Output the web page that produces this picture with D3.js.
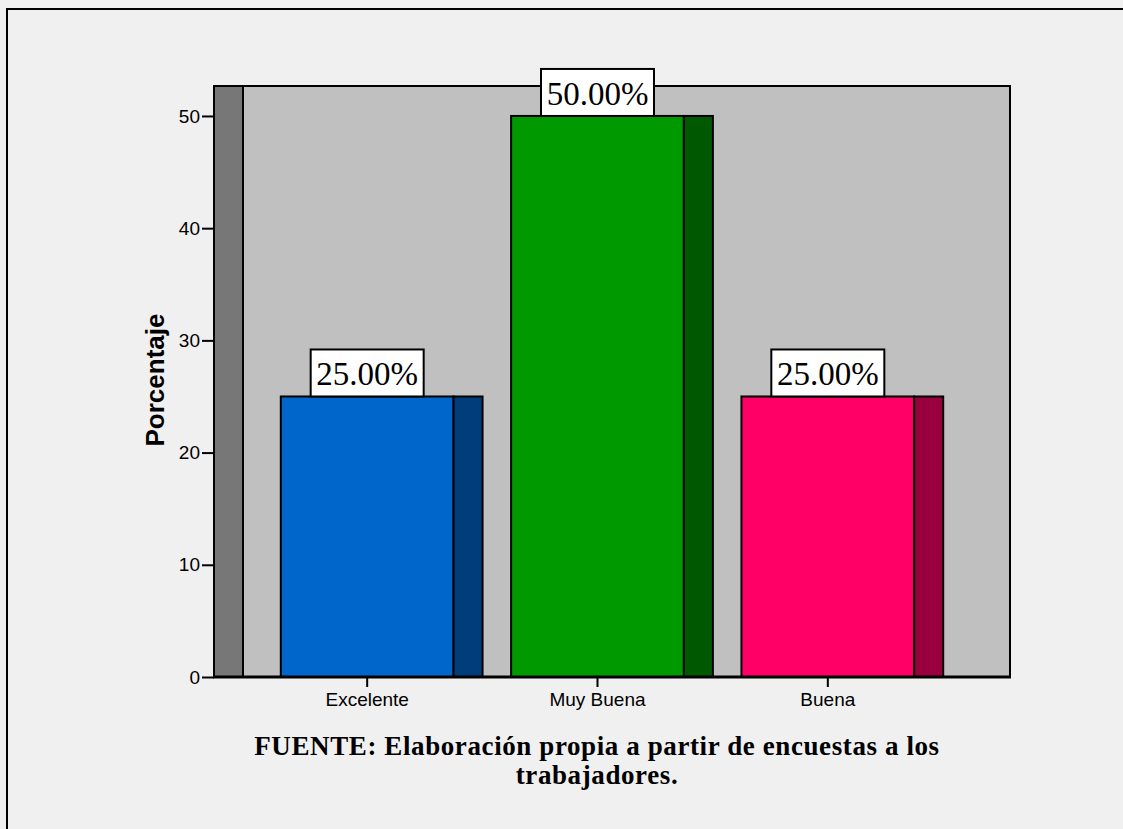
<!DOCTYPE html>
<html>
<head>
<meta charset="utf-8">
<script src="https://cdn.jsdelivr.net/npm/d3@7"></script>
<style>
  body { margin: 0; background: #f0f0f0; }
  svg { display: block; }
</style>
</head>
<body>
<svg id="chart" width="1123" height="829"></svg>
<script>
// data
var categories = ["Excelente", "Muy Buena", "Buena"];
var percents = [25, 50, 25];
var yTicks = [0, 10, 20, 30, 40, 50];
var frontColors = ["#0066cc", "#009900", "#ff0066"];
var sideColors = ["#003d7a", "#005900", "#99003d"];

(function(d3) {
  var svg = d3.select("#chart");

  var left = 214, right = 1010, top = 86, bottom = 677;
  var depth = 29; // pseudo 3d side width

  // page frame
  svg.append("rect")
    .attr("x", 7).attr("y", 9)
    .attr("width", 1130).attr("height", 840)
    .attr("fill", "#f0f0f0")
    .attr("stroke", "#000").attr("stroke-width", 2);

  var x = d3.scaleBand()
    .domain(categories)
    .range([left, right])
    .paddingInner(0.124)
    .paddingOuter(0.29);

  var y = d3.scaleLinear().domain([0, 52.67]).range([bottom, top]);

  // side wall + back wall
  svg.append("rect")
    .attr("x", left).attr("y", top)
    .attr("width", depth).attr("height", bottom - top)
    .attr("fill", "#777777").attr("stroke", "#000").attr("stroke-width", 2);
  svg.append("rect")
    .attr("x", left + depth).attr("y", top)
    .attr("width", right - left - depth).attr("height", bottom - top)
    .attr("fill", "#c0c0c0").attr("stroke", "#000").attr("stroke-width", 2);

  var data = categories.map(function(c, i) {
    return {cat: c, value: percents[i], front: frontColors[i], side: sideColors[i]};
  });

  var bar = svg.selectAll(".bar")
    .data(data)
    .enter().append("g")
    .attr("class", "bar");

  bar.append("rect")
    .attr("x", function(d) { return x(d.cat); })
    .attr("y", function(d) { return y(d.value); })
    .attr("width", x.bandwidth() - depth)
    .attr("height", function(d) { return y(0) - y(d.value); })
    .attr("fill", function(d) { return d.front; })
    .attr("stroke", "#000").attr("stroke-width", 2);

  bar.append("rect")
    .attr("x", function(d) { return x(d.cat) + x.bandwidth() - depth; })
    .attr("y", function(d) { return y(d.value); })
    .attr("width", depth)
    .attr("height", function(d) { return y(0) - y(d.value); })
    .attr("fill", function(d) { return d.side; })
    .attr("stroke", "#000").attr("stroke-width", 2);

  // value labels
  var fmt = d3.format(".2f");
  var boxW = 113, boxH = 47;
  function cx(d) { return x(d.cat) + (x.bandwidth() - depth) / 2; }

  bar.append("rect")
    .attr("x", function(d) { return cx(d) - boxW / 2; })
    .attr("y", function(d) { return y(d.value) - boxH; })
    .attr("width", boxW).attr("height", boxH)
    .attr("fill", "#fff").attr("stroke", "#000").attr("stroke-width", 2);

  bar.append("text")
    .attr("x", cx)
    .attr("y", function(d) { return y(d.value) - 11; })
    .attr("text-anchor", "middle")
    .style("font-family", "'Liberation Serif', 'Times New Roman', serif")
    .style("font-size", "33px")
    .attr("fill", "#000")
    .text(function(d) { return fmt(d.value) + "%"; });

  // axes
  var yAxis = svg.append("g")
    .attr("transform", "translate(" + left + ",0)")
    .call(d3.axisLeft(y).tickValues(yTicks).tickSize(12).tickPadding(2).tickFormat(d3.format("d")));
  yAxis.select(".domain").remove();
  yAxis.selectAll("line").attr("stroke", "#000").attr("stroke-width", 2);
  yAxis.selectAll("text")
    .style("font-family", "'Liberation Sans', Arial, sans-serif")
    .style("font-size", "19px").attr("fill", "#000");

  var xAxis = svg.append("g")
    .attr("transform", "translate(0," + bottom + ")")
    .call(d3.axisBottom(x).tickSize(10).tickPadding(6));
  xAxis.select(".domain").remove();
  xAxis.selectAll(".tick").attr("transform", function(d) {
    return "translate(" + (x(d) + (x.bandwidth() - depth) / 2) + ",0)";
  });
  xAxis.selectAll("line").attr("stroke", "#000").attr("stroke-width", 2);
  xAxis.selectAll("text")
    .style("font-family", "'Liberation Sans', Arial, sans-serif")
    .style("font-size", "19px").attr("fill", "#000");

  // baseline line
  svg.append("line")
    .attr("x1", left - 1).attr("x2", right + 1)
    .attr("y1", bottom).attr("y2", bottom)
    .attr("stroke", "#000").attr("stroke-width", 3);

  // y title
  svg.append("text")
    .attr("transform", "translate(164," + 380 + ") rotate(-90)")
    .attr("text-anchor", "middle")
    .style("font-family", "'Liberation Sans', Arial, sans-serif")
    .style("font-size", "26px").style("font-weight", "bold")
    .attr("fill", "#000")
    .text("Porcentaje");

  // source note
  var note = svg.append("text")
    .attr("text-anchor", "middle")
    .style("font-family", "'Liberation Serif', 'Times New Roman', serif")
    .style("font-size", "27px").style("font-weight", "bold")
    .style("letter-spacing", "0.6px")
    .attr("fill", "#000");
  note.append("tspan").attr("x", 597).attr("y", 755)
    .text("FUENTE: Elaboración propia a partir de encuestas a los");
  note.append("tspan").attr("x", 597).attr("y", 784)
    .text("trabajadores.");
})(window.d3);
</script>
</body>
</html>
